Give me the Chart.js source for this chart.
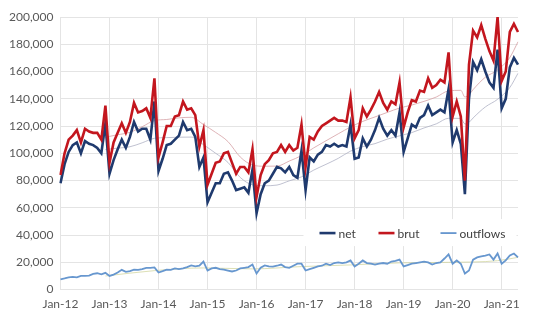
<!DOCTYPE html>
<html>
<head>
<meta charset="utf-8">
<script src="https://cdn.jsdelivr.net/npm/chart.js@4.4.1/dist/chart.umd.min.js"></script>
<style>
  html, body { margin: 0; padding: 0; background: #fff; }
  #wrap { width: 540px; height: 310px; }
</style>
</head>
<body>
<div id="wrap"><canvas id="chart"></canvas></div>
<script>
// monthly categories Jan-12 .. May-21
const years = ['12','13','14','15','16','17','18','19','20','21'];
const monthNames = ['Jan','Feb','Mar','Apr','May','Jun','Jul','Aug','Sep','Oct','Nov','Dec'];
const months = [];
years.forEach(y => monthNames.forEach(m => months.push(m + '-' + y)));
months.length = 113;

// values in thousands
const net = [
  78, 92, 101, 106, 108, 100, 109, 107, 106, 104, 100, 122,   // 2012
  85, 95, 103, 110, 104, 112, 123, 116, 118, 118, 110, 138,   // 2013
  87, 96, 106, 107, 110, 113, 123, 117, 118, 112, 90, 97,     // 2014
  64, 71, 78, 78, 85, 86, 80, 73, 74, 75, 71, 88,             // 2015
  56, 70, 78, 80, 85, 90, 89, 86, 90, 84, 82, 102,            // 2016
  73, 97, 94, 99, 101, 106, 105, 107, 105, 106, 105, 121,     // 2017
  96, 97, 111, 105, 110, 117, 126, 118, 113, 117, 113, 130,   // 2018
  101, 111, 121, 119, 126, 128, 135, 128, 130, 132, 130, 147, // 2019
  108, 117, 107, 70, 140, 167, 161, 169, 160, 152, 148, 176,  // 2020
  133, 140, 163, 170, 165                                     // 2021
];
const brut = [
  84, 100, 110, 113, 117, 108, 118, 116, 115, 115, 110, 135,
  93, 108, 115, 122, 115, 123, 137, 130, 131, 133, 126, 155,
  97, 108, 120, 120, 127, 128, 138, 132, 133, 128, 105, 117,
  77, 85, 93, 94, 100, 101, 93, 85, 90, 90, 86, 103,
  68, 84, 92, 95, 100, 101, 106, 101, 106, 102, 104, 121,
  90, 112, 110, 116, 120, 122, 124, 126, 124, 124, 123, 141,
  111, 117, 133, 127, 132, 138, 145, 137, 132, 138, 136, 152,
  119, 130, 139, 138, 146, 145, 155, 148, 150, 154, 152, 174,
  127, 138, 127, 80, 165, 190, 185, 194, 184, 175, 168, 200,
  153, 160, 189, 195, 189
];
const outflows = [
  7.5, 8.2, 9.0, 9.3, 9.0, 10.0, 10.0, 10.3, 11.5, 12.0, 11.2, 12.3,
  10.0, 11.0, 12.5, 14.5, 13.0, 13.5, 14.7, 14.5, 15.0, 16.0, 16.0, 16.3,
  12.5, 13.5, 14.7, 14.5, 15.5, 15.0, 15.5, 16.5, 17.7, 17.0, 17.5, 20.6,
  14.0, 15.5, 16.0, 15.0, 14.7, 14.0, 13.3, 14.0, 15.5, 16.0, 16.5, 18.4,
  11.8, 16.0, 17.7, 17.0, 16.9, 17.5, 18.4, 16.5, 16.0, 17.5, 19.0, 19.0,
  14.0, 15.0, 16.0, 17.0, 17.5, 19.0, 18.0, 19.5, 20.0, 19.5, 20.0, 21.4,
  17.0, 19.0, 21.4, 19.5, 19.0, 18.4, 19.0, 19.5, 19.0, 20.6, 21.0, 22.0,
  17.0, 18.0, 19.0, 19.5, 20.0, 20.5, 20.0, 18.4, 19.5, 20.0, 22.8, 25.8,
  19.0, 21.4, 19.0, 11.8, 14.0, 22.0, 23.6, 24.3, 25.0, 25.8, 22.0, 26.5,
  19.0, 21.4, 25.0, 26.5, 23.6
];

// thin 12-month trend lines, read at a few dates
const trendDates = ['Dec-12','Mar-13','Jun-13','Sep-13','Dec-13','Mar-14','Jun-14','Sep-14','Dec-14',
  'Mar-15','Jun-15','Sep-15','Dec-15','Mar-16','Jun-16','Sep-16','Dec-16','Mar-17','Jun-17','Sep-17',
  'Dec-17','Mar-18','Jun-18','Sep-18','Dec-18','Mar-19','Jun-19','Sep-19','Dec-19','Mar-20','Apr-20',
  'May-20','Jun-20','Sep-20','Dec-20','Mar-21','May-21'];
const netTrend = [102.8, 103.8, 104.8, 107.7, 111.0, 111.5, 111.8, 111.9, 106.3, 100.0, 93.3, 82.3,
  76.9, 76.2, 76.7, 79.8, 82.7, 87.7, 91.9, 96.3, 101.6, 104.9, 107.1, 110.4, 112.8, 115.2, 118.6,
  121.6, 125.7, 125.6, 121.5, 122.7, 125.9, 134.0, 139.6, 148.3, 158.7];
const brutTrend = [111.8, 113.6, 115.4, 119.5, 124.0, 124.8, 126.0, 126.4, 121.1, 115.3, 108.6, 97.3,
  91.4, 90.5, 90.6, 94.3, 98.3, 104.0, 109.2, 114.3, 119.3, 123.4, 126.7, 130.0, 133.2, 135.4, 138.1,
  141.3, 145.8, 146.2, 141.3, 142.9, 146.7, 155.8, 161.1, 170.3, 181.8];
const outTrendDates = ['Dec-12','Dec-13','Dec-14','Dec-15','Dec-16','Dec-17','Dec-18','Dec-19','Dec-20','May-21'];
const outTrend = [10.0, 13.9, 15.9, 15.2, 16.9, 18.1, 19.6, 20.0, 21.2, 23.7];

const FONT = 'Lato, "Open Sans", sans-serif';
const pts = (dates, vals) => dates.map((d, i) => ({ x: d, y: vals[i] }));

function line(label, data, color, width, order) {
  return { label, data, borderColor: color, backgroundColor: color, borderWidth: width,
    pointRadius: 0, pointHoverRadius: 0, tension: 0, fill: false, order };
}
function trend(data, color) {
  return { label: '', data, borderColor: color, borderWidth: 1, pointRadius: 0,
    cubicInterpolationMode: 'monotone', fill: false, order: 5, isTrend: true };
}

// legend drawn inside the plot, on a white box
const legendSlots = [0, 59, 121];
const innerLegend = {
  id: 'innerLegend',
  afterDatasetsDraw(chart) {
    const { ctx, chartArea } = chart;
    const y = chart.scales.y.getPixelForValue(40) - 2;
    const x0 = chartArea.left + 259;
    ctx.save();
    ctx.fillStyle = '#fff';
    ctx.fillRect(x0 - 16, y - 14, 213, 27);
    ctx.font = '12px ' + FONT;
    ctx.textBaseline = 'middle';
    chart.data.datasets.filter(d => !d.isTrend).forEach((d, i) => {
      const x = x0 + legendSlots[i];
      ctx.strokeStyle = d.borderColor;
      ctx.lineWidth = d.borderWidth;
      ctx.beginPath();
      ctx.moveTo(x, y);
      ctx.lineTo(x + 16, y);
      ctx.stroke();
      ctx.fillStyle = '#404040';
      ctx.fillText(d.label, x + 19, y + 1);
    });
    ctx.restore();
  }
};

new Chart(document.getElementById('chart'), {
  type: 'line',
  data: {
    labels: months,
    datasets: [
      line('net', net, '#1f3a6e', 2.6, 1),
      line('brut', brut, '#c3161e', 2.6, 0),
      line('outflows', outflows, '#6797cf', 1.8, 2),
      trend(pts(trendDates, brutTrend), 'rgba(214,160,165,0.8)'),
      trend(pts(trendDates, netTrend), 'rgba(175,178,196,0.8)'),
      trend(pts(outTrendDates, outTrend), 'rgba(205,210,150,0.7)')
    ]
  },
  options: {
    responsive: true,
    maintainAspectRatio: false,
    animation: false,
    layout: { padding: { top: 17, right: 22, left: 2, bottom: -8 } },
    plugins: { legend: { display: false }, tooltip: { enabled: false } },
    scales: {
      x: {
        offset: false,
        grid: { color: '#e4e4e4', drawTicks: false },
        border: { display: false },
        ticks: {
          autoSkip: false, maxRotation: 0, padding: 7,
          color: '#595959', font: { family: FONT, size: 12 },
          callback(v) { const l = months[v]; return l.startsWith('Jan') ? l : null; }
        }
      },
      y: {
        min: 0, max: 200,
        grid: { color: '#e4e4e4', drawTicks: false },
        border: { display: false },
        ticks: {
          stepSize: 20, padding: 7,
          color: '#595959', font: { family: FONT, size: 12 },
          callback: v => (v * 1000).toLocaleString('en-US')
        }
      }
    }
  },
  plugins: [innerLegend]
});
</script>
</body>
</html>
